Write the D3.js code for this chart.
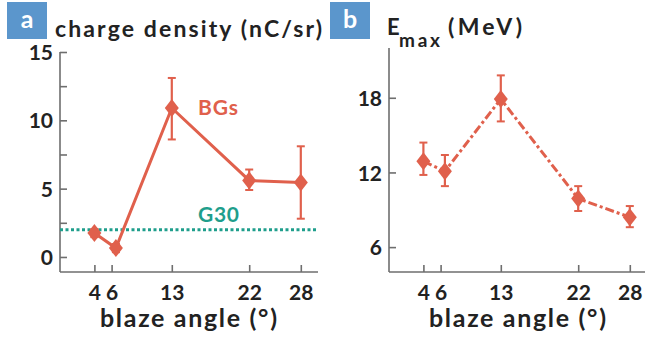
<!DOCTYPE html>
<html>
<head>
<meta charset="utf-8">
<script src="https://cdn.jsdelivr.net/npm/d3@7"></script>
<style>
  body { margin: 0; background: #fff; }
  svg text { font-family: Lato, "Open Sans", sans-serif; font-weight: 700; fill: #222; }
</style>
</head>
<body>
<svg id="chart" width="645" height="341"></svg>
<script>
// blaze angles (deg) and tick labels
const xTicks = [4, 6, 13, 22, 28];
const angles = [4, 6.5, 13, 22, 28];

// panel a: charge density (nC/sr)
const charge = [1.75, 0.65, 10.9, 5.6, 5.45];
const chargeLo = [1.45, 0.35, 8.6, 4.9, 2.8];
const chargeHi = [2.05, 0.95, 13.1, 6.4, 8.1];
const chargeTicks = [0, 2.5, 5, 7.5, 10, 12.5, 15];
const chargeLabels = [0, 5, 10, 15];
const g30 = 2;

// panel b: max energy (MeV)
const emax = [12.9, 12.1, 17.9, 9.9, 8.4];
const emaxLo = [11.8, 10.9, 16.1, 8.9, 7.6];
const emaxHi = [14.4, 13.4, 19.8, 10.9, 9.3];
const emaxTicks = [6, 12, 18];

const red = '#e0604c', teal = '#1f9e8c', axisCol = '#6e6e6e', boxBlue = '#5b96cc';

const svg = d3.select('#chart');

function panel(o) {
  const x = d3.scaleLinear().domain([0, 30]).range([o.left, o.left + 258]);
  const y = d3.scaleLinear().domain(o.yDomain).range([272, o.top]);
  const g = svg.append('g');

  // axes (ticks point inward)
  const yAxis = d3.axisRight(y).tickValues(o.yTicks).tickSize(7)
    .tickFormat(d => o.yLabels.includes(d) ? d : '');
  const gy = g.append('g').attr('transform', 'translate(' + o.left + ',0)').call(yAxis);
  gy.selectAll('text').attr('x', -7).style('text-anchor', 'end').attr('font-size', 21).attr('dy', '0.36em');

  const xAxis = d3.axisTop(x).tickValues(xTicks).tickSize(7).tickFormat(d => d);
  const gx = g.append('g').attr('transform', 'translate(0,272)').call(xAxis);
  gx.selectAll('text').attr('y', 28).attr('dy', 0).attr('font-size', 21);
  gx.select('.domain').attr('d', 'M' + o.left + ',0H' + (o.left + 258));
  gy.select('.domain').attr('d', 'M0,272V' + o.top);

  g.selectAll('.domain, .tick line').attr('stroke', axisCol).attr('stroke-width', 1.6);

  g.append('text')
    .attr('x', o.left + 40).attr('y', 327)
    .attr('font-size', 25)
    .attr('textLength', 177).attr('lengthAdjust', 'spacing')
    .text('blaze angle (°)');

  // error bars
  const eb = g.selectAll('.err').data(angles).enter().append('g').attr('class', 'err');
  eb.append('line')
    .attr('x1', d => x(d)).attr('x2', d => x(d))
    .attr('y1', (d, i) => y(o.lo[i])).attr('y2', (d, i) => y(o.hi[i]))
    .attr('stroke', red).attr('stroke-width', 2.2);
  ['lo', 'hi'].forEach(k => {
    eb.append('line')
      .attr('x1', d => x(d) - 4).attr('x2', d => x(d) + 4)
      .attr('y1', (d, i) => y(o[k][i])).attr('y2', (d, i) => y(o[k][i]))
      .attr('stroke', red).attr('stroke-width', 2);
  });

  // line
  const line = d3.line().x((d, i) => x(angles[i])).y(d => y(d));
  g.append('path').datum(o.vals)
    .attr('d', line).attr('fill', 'none')
    .attr('stroke', red).attr('stroke-width', 3)
    .attr('stroke-dasharray', o.dash || null);

  // diamonds
  g.selectAll('.pt').data(o.vals).enter().append('path')
    .attr('class', 'pt')
    .attr('d', 'M0,-9L7,0L0,9L-7,0Z')
    .attr('transform', (d, i) => 'translate(' + x(angles[i]) + ',' + y(d) + ')')
    .attr('fill', red);

  return { g, x, y };
}

// panel a
const pa = panel({ left: 60, top: 52, yDomain: [-1.1, 15], yTicks: chargeTicks, yLabels: chargeLabels,
  vals: charge, lo: chargeLo, hi: chargeHi });
pa.g.insert('line', '.err')
  .attr('x1', 60).attr('x2', 318).attr('y1', pa.y(g30)).attr('y2', pa.y(g30))
  .attr('stroke', teal).attr('stroke-width', 3).attr('stroke-dasharray', '3,2.5');
pa.g.append('text').attr('x', 198).attr('y', 115).attr('font-size', 21)
  .attr('textLength', 40).attr('lengthAdjust', 'spacing').style('fill', red).text('BGs');
pa.g.append('text').attr('x', 198).attr('y', 222).attr('font-size', 21)
  .attr('textLength', 41).attr('lengthAdjust', 'spacing').style('fill', teal).text('G30');

// panel b
panel({ left: 389, top: 48, yDomain: [4, 22], yTicks: emaxTicks, yLabels: emaxTicks,
  vals: emax, lo: emaxLo, hi: emaxHi, dash: '9,3,3,3' });

// panel letters and titles
[['a', 7], ['b', 330]].forEach(([t, x0]) => {
  svg.append('rect').attr('x', x0).attr('y', 2).attr('width', 40).attr('height', 37).attr('fill', boxBlue);
  svg.append('text').attr('x', x0 + 20).attr('y', 28).attr('text-anchor', 'middle')
    .attr('font-size', 25).style('fill', '#fff').text(t);
});
svg.append('text').attr('x', 55).attr('y', 37).attr('font-size', 23)
  .attr('textLength', 267).attr('lengthAdjust', 'spacing').text('charge density (nC/sr)');
svg.append('text').attr('x', 387).attr('y', 35).attr('font-size', 22).text('E');
svg.append('text').attr('x', 399).attr('y', 47).attr('font-size', 19)
  .attr('textLength', 41).attr('lengthAdjust', 'spacing').text('max');
svg.append('text').attr('x', 448).attr('y', 35).attr('font-size', 23)
  .attr('textLength', 74).attr('lengthAdjust', 'spacing').text('(MeV)');
</script>
</body>
</html>
